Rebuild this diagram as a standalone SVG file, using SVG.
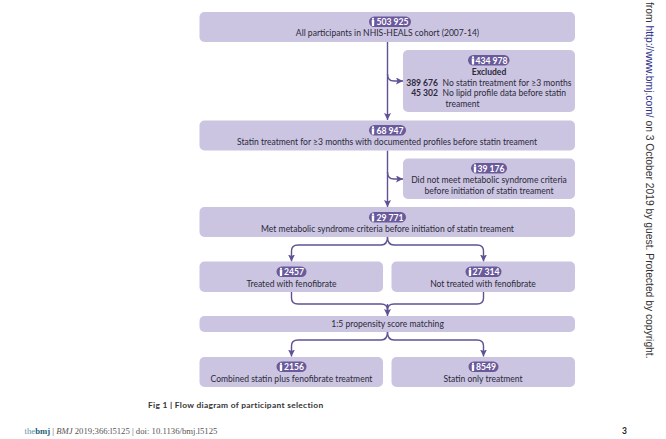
<svg xmlns="http://www.w3.org/2000/svg" width="666" height="439" viewBox="0 0 666 439">
<defs>
<marker id="arrow" markerUnits="userSpaceOnUse" markerWidth="8" markerHeight="7" refX="7" refY="3.5" orient="auto"><path d="M0 0L7 3.5L0 7L1.5 3.5Z" fill="#5f5192"/></marker>
<g id="person"><circle cx="0" cy="-3.2" r="1.1" fill="#fff"/><path d="M-1.3 -2H1.3L1.1 4H-1.1Z" fill="#fff"/></g>
</defs>
<style>
text{font-family:"Lato","Open Sans","Liberation Sans",sans-serif;font-size:8.55px;fill:#2c2a3a}
.box{fill:#cbc5e1}
.pill{fill:#6a5a9c}
.num{font-weight:700;font-size:8.6px;fill:#fff;text-anchor:middle}
.c{text-anchor:middle}
.b{font-weight:700}
.e{text-anchor:end;font-weight:700}
.line{fill:none;stroke:#5f5192;stroke-width:1.4;marker-end:url(#arrow)}
.plain{fill:none;stroke:#5f5192;stroke-width:1.4}
.side{font-family:"Liberation Sans",sans-serif;font-size:10.3px;fill:#333}
</style>
<rect width="666" height="439" fill="#fff"/>
<g id="connectors">
<path class="line" d="M387.5 42V120"/>
<path class="line" d="M387.5 74Q387.5 81 394 81H403"/>
<path class="line" d="M387.5 150.500V207"/>
<path class="line" d="M387.5 172Q387.5 179 394 179H403"/>
<path class="line" d="M387.500 237Q387.500 245 381 245H298Q291.500 245 291.500 251V261.500"/>
<path class="line" d="M387.500 237Q387.500 245 394 245H477Q483.500 245 483.500 251V261.500"/>
<path class="plain" d="M291.500 292V298Q291.500 304 298 304H381Q387.500 304 387.500 310"/>
<path class="plain" d="M483.500 292V298Q483.500 304 477 304H394Q387.500 304 387.500 310"/>
<path class="line" d="M387.500 304V316"/>
<path class="line" d="M387.500 332Q387.500 340 381 340H298Q291.500 340 291.500 346V356.500"/>
<path class="line" d="M387.500 332Q387.500 340 394 340H477Q483.500 340 483.500 346V356.500"/>
</g>
<g id="n1"><rect class="box" x="199.500" y="12" width="375.500" height="30" rx="5"/><rect class="pill" x="369" y="16.500" width="42" height="10.500" rx="5.250"/><use href="#person" x="373" y="22"/><text class="num" x="392.500" y="25.100">503 925</text><text class="c" x="387.500" y="36">All participants in NHIS-HEALS cohort (2007-14)</text></g>
<g id="n2"><rect class="box" x="403" y="50" width="172" height="62" rx="5"/><rect class="pill" x="468" y="55" width="41.500" height="10.500" rx="5.250"/><use href="#person" x="473" y="60.500"/><text class="num" x="491.500" y="63.600">434 978</text><text class="c b" x="489" y="74.500">Excluded</text><text class="e" x="438" y="85.500">389 676</text><text x="442.500" y="85.500">No statin treatment for ≥3 months</text><text class="e" x="438" y="96">45 302</text><text x="442.500" y="96">No lipid profile data before statin</text><text x="445.500" y="106.500">treament</text></g>
<g id="n3"><rect class="box" x="199.500" y="120.500" width="375.500" height="30" rx="5"/><rect class="pill" x="369" y="125" width="37" height="10.500" rx="5.250"/><use href="#person" x="373" y="130.500"/><text class="num" x="390" y="133.600">68 947</text><text class="c" x="387" y="145">Statin treatment for ≥3 months with documented profiles before statin treament</text></g>
<g id="n4"><rect class="box" x="403" y="158.500" width="172" height="40.500" rx="5"/><rect class="pill" x="471" y="163" width="36" height="10.500" rx="5.250"/><use href="#person" x="475" y="168.500"/><text class="num" x="491" y="171.600">39 176</text><text class="c" x="489" y="183">Did not meet metabolic syndrome criteria</text><text class="c" x="489" y="193.500">before initiation of statin treament</text></g>
<g id="n5"><rect class="box" x="199.500" y="207" width="375.500" height="30" rx="5"/><rect class="pill" x="369" y="212" width="37" height="10.500" rx="5.250"/><use href="#person" x="373" y="217.500"/><text class="num" x="390" y="220.600">29 771</text><text class="c" x="387.500" y="231.500">Met metabolic syndrome criteria before initiation of statin treament</text></g>
<g id="n6"><rect class="box" x="199.500" y="261.500" width="183.500" height="30.500" rx="5"/><rect class="pill" x="276.500" y="266.500" width="30" height="10.500" rx="5.250"/><use href="#person" x="281" y="272"/><text class="num" x="294" y="275.100">2457</text><text class="c" x="291.500" y="286.500">Treated with fenofibrate</text></g>
<g id="n7"><rect class="box" x="391.500" y="261.500" width="183.500" height="30.500" rx="5"/><rect class="pill" x="465.500" y="266.500" width="36" height="10.500" rx="5.250"/><use href="#person" x="470" y="272"/><text class="num" x="486" y="275.100">27 314</text><text class="c" x="483" y="286.500">Not treated with fenofibrate</text></g>
<g id="n8"><rect class="box" x="199.500" y="316" width="375.500" height="16" rx="5"/><text class="c" x="387.500" y="327">1:5 propensity score matching</text></g>
<g id="n9"><rect class="box" x="199.500" y="357" width="183.500" height="30" rx="5"/><rect class="pill" x="276.500" y="361.500" width="30" height="10.500" rx="5.250"/><use href="#person" x="281" y="367"/><text class="num" x="294" y="370.100">2156</text><text class="c" x="291.500" y="381.500">Combined statin plus fenofibrate treatment</text></g>
<g id="n10"><rect class="box" x="391.500" y="357" width="183.500" height="30" rx="5"/><rect class="pill" x="468.500" y="361.500" width="30" height="10.500" rx="5.250"/><use href="#person" x="473" y="367"/><text class="num" x="486" y="370.100">8549</text><text class="c" x="483" y="381.500">Statin only treatment</text></g>
<text x="148" y="408" style="font-size:8.400px;font-weight:700;letter-spacing:.3px;fill:#333">Fig 1 | Flow diagram of participant selection</text>
<text x="24.500" y="434" style="font-family:'Liberation Serif',serif;font-size:8.700px;fill:#555"><tspan fill="#5a93aa">the</tspan><tspan fill="#1f5c78" font-weight="700">bmj</tspan> | <tspan font-style="italic">BMJ</tspan> 2019;366:l5125 | doi: 10.1136/bmj.l5125</text>
<text x="622" y="434" style="font-size:8.500px;font-weight:700;fill:#222">3</text>
<text class="side" transform="translate(646 2) rotate(90)">from <tspan fill="#2c2f8c">http://www.bmj.com/</tspan> on 3 October 2019 by guest. Protected by copyright.</text>
</svg>
